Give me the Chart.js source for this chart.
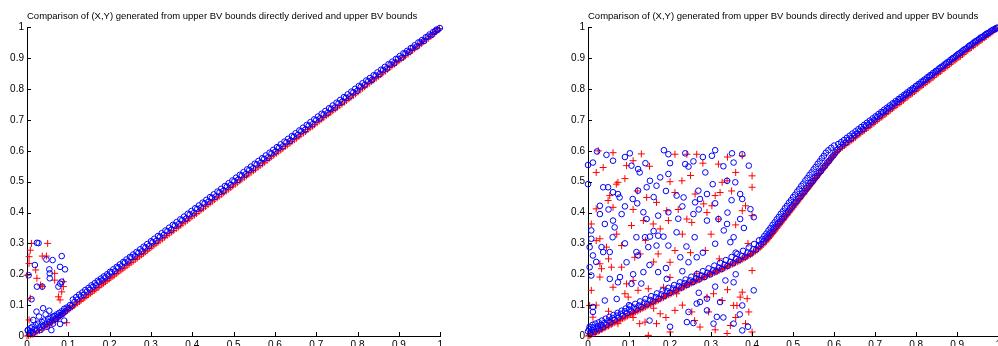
<!DOCTYPE html>
<html>
<head>
<meta charset="utf-8">
<script src="https://cdn.jsdelivr.net/npm/chart.js@4"></script>
<style>
  html, body { margin: 0; padding: 0; background: #fff; overflow: hidden; width: 998px; height: 346px; }
  canvas { position: absolute; top: 0; }
  #left { left: 0; }
  #right { left: 561px; }
</style>
</head>
<body>
<canvas id="left" width="446" height="356"></canvas>
<canvas id="right" width="443" height="356"></canvas>
<script>
const titleText = 'Comparison of (X,Y) generated from upper BV bounds directly derived and upper BV bounds';
const tickValues = [0, 0.1, 0.2, 0.3, 0.4, 0.5, 0.6, 0.7, 0.8, 0.9, 1];

// left panel: directly derived (o) vs upper bounds (+)
const leftBlueLine = [
  [0.002,0.018],[0.005,0.008],[0.008,0.025],[0.01,0.015],[0.013,0.03],[0.015,0.01],[0.018,0.022],[0.021,0.035],
  [0.024,0.018],[0.027,0.04],[0.03,0.028],[0.033,0.02],[0.036,0.045],[0.039,0.033],[0.042,0.05],[0.045,0.038],
  [0.048,0.03],[0.051,0.055],[0.054,0.045],[0.057,0.06],[0.06,0.05],[0.063,0.04],[0.066,0.065],[0.069,0.055],
  [0.072,0.07],[0.075,0.062],[0.078,0.075],[0.081,0.068],[0.084,0.08],[0.087,0.073],[0.09,0.088],[0.093,0.08],
  [0.096,0.092],[0.1,0.09],[0.104,0.1],[0.108,0.097],[0.115,0.11],[0.122,0.118],[0.13,0.128],[0.137,0.133],
  [0.145,0.144],[0.152,0.15],[0.16,0.16],[0.167,0.164],[0.175,0.176],[0.182,0.18],[0.19,0.19],[0.197,0.195],
  [0.205,0.206],[0.213,0.21],[0.221,0.222],[0.229,0.226],[0.237,0.238],[0.245,0.242],[0.253,0.255],[0.261,0.258],
  [0.27,0.27],[0.278,0.274],[0.287,0.287],[0.295,0.291],[0.304,0.304],[0.313,0.308],[0.322,0.322],[0.331,0.327],
  [0.34,0.34],[0.349,0.344],[0.358,0.358],[0.367,0.362],[0.376,0.376],[0.385,0.38],[0.394,0.394],[0.403,0.398],
  [0.412,0.412],[0.421,0.416],[0.43,0.43],[0.439,0.435],[0.448,0.448],[0.457,0.452],[0.466,0.466],[0.475,0.47],
  [0.484,0.484],[0.493,0.489],[0.502,0.502],[0.511,0.506],[0.52,0.52],[0.529,0.524],[0.538,0.538],[0.547,0.543],
  [0.556,0.556],[0.565,0.56],[0.574,0.574],[0.583,0.578],[0.592,0.592],[0.601,0.597],[0.61,0.61],[0.619,0.614],
  [0.628,0.628],[0.637,0.632],[0.646,0.646],[0.655,0.651],[0.664,0.664],[0.673,0.668],[0.682,0.682],[0.691,0.686],
  [0.7,0.7],[0.709,0.705],[0.718,0.718],[0.727,0.722],[0.736,0.736],[0.745,0.74],[0.754,0.754],[0.763,0.759],
  [0.772,0.772],[0.781,0.776],[0.79,0.79],[0.799,0.794],[0.808,0.808],[0.817,0.813],[0.826,0.826],[0.835,0.83],
  [0.844,0.844],[0.853,0.848],[0.862,0.862],[0.871,0.867],[0.88,0.88],[0.889,0.884],[0.898,0.898],[0.907,0.902],
  [0.916,0.916],[0.925,0.921],[0.934,0.934],[0.943,0.938],[0.952,0.952],[0.961,0.956],[0.97,0.97],[0.979,0.975],
  [0.988,0.988],[0.994,0.992],[0.999,0.998]
];
const leftBlueUpper = [
  [0.111,0.118],[0.119,0.126],[0.126,0.134],[0.134,0.141],[0.141,0.149],[0.149,0.156],[0.156,0.164],[0.164,0.171],
  [0.171,0.179],[0.179,0.186],[0.186,0.193],[0.194,0.2],[0.201,0.208],[0.209,0.216],[0.217,0.224],[0.225,0.232],
  [0.233,0.24],[0.241,0.248],[0.249,0.256],[0.257,0.264],[0.265,0.272],[0.274,0.281],[0.282,0.289],[0.291,0.298],
  [0.3,0.307],[0.308,0.315],[0.317,0.324],[0.326,0.333],[0.335,0.342],[0.344,0.351],[0.353,0.36],[0.362,0.369],
  [0.371,0.378],[0.38,0.387],[0.389,0.396],[0.398,0.405],[0.407,0.414],[0.416,0.423],[0.425,0.432],[0.434,0.441],
  [0.443,0.45],[0.452,0.459],[0.461,0.468],[0.47,0.477],[0.479,0.486],[0.488,0.495],[0.497,0.504],[0.506,0.513],
  [0.515,0.522],[0.524,0.531],[0.533,0.54],[0.542,0.549],[0.551,0.558],[0.56,0.567],[0.569,0.576],[0.578,0.585],
  [0.587,0.594],[0.596,0.603],[0.605,0.612],[0.614,0.621],[0.623,0.63],[0.632,0.639],[0.641,0.648],[0.65,0.657],
  [0.659,0.666],[0.668,0.675],[0.677,0.684],[0.686,0.693],[0.695,0.702],[0.704,0.711],[0.713,0.72],[0.722,0.729],
  [0.731,0.738],[0.74,0.747],[0.749,0.756],[0.758,0.765],[0.767,0.774],[0.776,0.783],[0.785,0.792],[0.794,0.801],
  [0.803,0.81],[0.812,0.819],[0.821,0.828],[0.83,0.836],[0.839,0.845],[0.848,0.854],[0.857,0.863],[0.866,0.872],
  [0.875,0.881],[0.884,0.889],[0.893,0.898],[0.902,0.907],[0.911,0.916],[0.92,0.924],[0.929,0.933],[0.938,0.942],
  [0.947,0.951],[0.956,0.959],[0.965,0.968],[0.974,0.977],[0.983,0.985],[0.991,0.993]
];
const leftBlueScatter = [
  [0.024,0.302],[0.028,0.301],[0.004,0.197],[0.019,0.23],[0.047,0.248],[0.062,0.246],[0.084,0.259],[0.054,0.216],
  [0.055,0.203],[0.092,0.216],[0.08,0.224],[0.055,0.187],[0.084,0.176],[0.076,0.16],[0.08,0.17],[0.024,0.16],
  [0.037,0.16],[0.011,0.119],[0.039,0.09],[0.054,0.082],[0.023,0.079],[0.029,0.063],[0.063,0.063],[0.015,0.052],
  [0.059,0.019],[0.08,0.039],[0.002,0.019],[0.045,0.07],[0.07,0.055],[0.09,0.05]
];
const leftRedLine = [
  [0,0],[0.004,0.002],[0.009,0.004],[0.014,0.006],[0.019,0.01],[0.024,0.013],[0.03,0.018],[0.036,0.022],
  [0.042,0.028],[0.048,0.033],[0.055,0.04],[0.062,0.046],[0.069,0.053],[0.076,0.06],[0.083,0.068],[0.09,0.075],
  [0.098,0.083],[0.106,0.091],[0.114,0.099],[0.122,0.107],[0.131,0.116],[0.14,0.125],[0.149,0.134],[0.158,0.144],
  [0.167,0.152],[0.176,0.162],[0.185,0.171],[0.194,0.18],[0.203,0.189],[0.212,0.198],[0.222,0.208],[0.232,0.218],
  [0.242,0.228],[0.252,0.238],[0.262,0.248],[0.272,0.258],[0.282,0.268],[0.292,0.278],[0.302,0.289],[0.312,0.299],
  [0.322,0.309],[0.333,0.32],[0.344,0.331],[0.355,0.342],[0.366,0.353],[0.377,0.364],[0.388,0.375],[0.399,0.386],
  [0.41,0.397],[0.421,0.408],[0.432,0.42],[0.443,0.431],[0.454,0.442],[0.465,0.453],[0.476,0.464],[0.487,0.475],
  [0.498,0.486],[0.509,0.497],[0.52,0.508],[0.531,0.519],[0.542,0.53],[0.553,0.541],[0.564,0.552],[0.575,0.563],
  [0.586,0.575],[0.597,0.586],[0.608,0.597],[0.619,0.608],[0.63,0.619],[0.641,0.63],[0.652,0.641],[0.663,0.652],
  [0.674,0.663],[0.685,0.674],[0.696,0.685],[0.707,0.697],[0.718,0.708],[0.729,0.719],[0.74,0.73],[0.751,0.741],
  [0.762,0.752],[0.773,0.763],[0.784,0.774],[0.795,0.785],[0.806,0.797],[0.817,0.808],[0.828,0.819],[0.839,0.83],
  [0.85,0.841],[0.861,0.852],[0.872,0.864],[0.883,0.875],[0.894,0.886],[0.905,0.897],[0.916,0.908],[0.927,0.92],
  [0.938,0.931],[0.949,0.942],[0.96,0.954],[0.971,0.965],[0.982,0.977],[0.991,0.987],[0.998,0.996]
];
const leftRedFill = [
  [0.051,0.036],[0.059,0.043],[0.066,0.05],[0.073,0.057],[0.08,0.064],[0.087,0.072],[0.094,0.079],[0.102,0.087],
  [0.11,0.095],[0.118,0.103],[0.127,0.112],[0.136,0.121],[0.145,0.13],[0.154,0.139],[0.163,0.148],[0.172,0.157],
  [0.181,0.166],[0.19,0.176],[0.199,0.185],[0.208,0.194],[0.217,0.203],[0.227,0.213],[0.237,0.223],[0.247,0.233],
  [0.257,0.243],[0.267,0.253],[0.277,0.263],[0.287,0.273],[0.297,0.284],[0.307,0.294],[0.317,0.304],[0.328,0.315],
  [0.339,0.326],[0.35,0.337],[0.361,0.348],[0.372,0.359],[0.383,0.37],[0.394,0.381],[0.405,0.392],[0.416,0.403],
  [0.427,0.414],[0.438,0.426],[0.449,0.437],[0.46,0.448],[0.471,0.459],[0.482,0.47],[0.493,0.481],[0.504,0.492],
  [0.515,0.503],[0.526,0.514],[0.537,0.525],[0.548,0.536],[0.559,0.547],[0.57,0.558],[0.581,0.569],[0.592,0.581],
  [0.603,0.592],[0.614,0.603],[0.625,0.614],[0.636,0.625],[0.647,0.636],[0.658,0.647],[0.669,0.658],[0.68,0.669],
  [0.691,0.68],[0.702,0.691],[0.713,0.703],[0.724,0.714],[0.735,0.725],[0.746,0.736],[0.757,0.747],[0.768,0.758],
  [0.779,0.769],[0.79,0.78],[0.801,0.791],[0.812,0.803],[0.823,0.814],[0.834,0.825],[0.845,0.836],[0.856,0.847],
  [0.867,0.858],[0.878,0.87],[0.889,0.881],[0.9,0.892],[0.911,0.903],[0.922,0.914],[0.933,0.926],[0.944,0.937],
  [0.955,0.948],[0.966,0.96],[0.977,0.971],[0.987,0.982]
];
const leftRedScatter = [
  [0.011,0.3],[0.008,0.278],[0.005,0.257],[0.005,0.235],[0.05,0.3],[0.037,0.259],[0.047,0.259],[0.037,0.16],
  [0.033,0.165],[0.021,0.214],[0.024,0.187],[0,0.197],[0.067,0.181],[0.088,0.176],[0.088,0.16],[0.084,0.143],
  [0.076,0.127],[0.08,0.117],[0.067,0.203],[0.008,0.122],[0.005,0.052],[0.096,0.043]
];

// right panel
const rightBlueLine = [
  [0,0.015],[0.003,0.022],[0.006,0.01],[0.01,0.02],[0.013,0.028],[0.016,0.014],[0.02,0.024],[0.024,0.032],
  [0.028,0.022],[0.032,0.036],[0.036,0.028],[0.04,0.042],[0.045,0.036],[0.05,0.05],[0.055,0.044],[0.06,0.058],
  [0.065,0.052],[0.07,0.066],[0.075,0.06],[0.08,0.072],[0.085,0.066],[0.09,0.08],[0.095,0.074],[0.1,0.086],
  [0.106,0.08],[0.112,0.092],[0.118,0.086],[0.124,0.099],[0.13,0.094],[0.137,0.108],[0.144,0.103],[0.151,0.117],
  [0.158,0.112],[0.165,0.126],[0.172,0.121],[0.179,0.135],[0.186,0.13],[0.193,0.145],[0.2,0.14],[0.207,0.154],
  [0.214,0.149],[0.221,0.162],[0.228,0.157],[0.235,0.171],[0.242,0.166],[0.249,0.18],[0.256,0.175],[0.263,0.187],
  [0.27,0.183],[0.277,0.196],[0.284,0.191],[0.291,0.205],[0.298,0.2],[0.305,0.213],[0.312,0.209],[0.319,0.222],
  [0.326,0.217],[0.333,0.231],[0.34,0.227],[0.347,0.24],[0.354,0.236],[0.361,0.25],[0.368,0.246],[0.375,0.259],
  [0.382,0.256],[0.389,0.27],[0.396,0.267],[0.403,0.281],[0.41,0.28],[0.416,0.292],[0.422,0.298],
  [0.428,0.306],[0.433,0.316],[0.438,0.322],[0.443,0.332],[0.448,0.338],[0.453,0.348],[0.458,0.355],[0.463,0.364],
  [0.468,0.371],[0.473,0.38],[0.478,0.387],[0.483,0.397],[0.488,0.403],[0.493,0.413],[0.498,0.42],[0.503,0.43],
  [0.508,0.436],[0.513,0.446],[0.518,0.453],[0.523,0.463],[0.528,0.469],[0.533,0.479],[0.538,0.486],[0.543,0.496],
  [0.548,0.502],[0.553,0.512],[0.558,0.519],[0.563,0.529],[0.568,0.535],[0.573,0.545],[0.578,0.552],[0.583,0.562],
  [0.588,0.568],[0.593,0.578],[0.598,0.585],[0.603,0.595],[0.608,0.603],
  [0.614,0.612],[0.621,0.621],[0.628,0.626],[0.635,0.636],[0.642,0.641],[0.649,0.65],[0.656,0.656],[0.663,0.665],
  [0.67,0.67],[0.677,0.68],[0.684,0.685],[0.691,0.694],[0.698,0.7],[0.705,0.709],[0.712,0.714],[0.719,0.724],
  [0.726,0.729],[0.733,0.738],[0.74,0.743],[0.747,0.753],[0.754,0.758],[0.761,0.767],[0.768,0.772],[0.775,0.782],
  [0.782,0.787],[0.789,0.796],[0.796,0.801],[0.803,0.811],[0.81,0.816],[0.817,0.825],[0.824,0.83],[0.831,0.84],
  [0.838,0.845],[0.845,0.854],[0.852,0.859],[0.859,0.869],[0.866,0.874],[0.873,0.883],[0.88,0.888],[0.887,0.898],
  [0.894,0.903],[0.901,0.912],[0.908,0.917],[0.915,0.926],[0.922,0.931],[0.929,0.94],[0.936,0.945],[0.943,0.954],
  [0.95,0.959],[0.957,0.967],[0.964,0.971],[0.971,0.979],[0.978,0.983],[0.985,0.99],[0.992,0.994],[0.998,0.999]
];
const rightBlueUpper = [
  [0.004,0.03],[0.011,0.036],[0.018,0.04],[0.026,0.044],[0.034,0.05],[0.043,0.056],[0.052,0.062],[0.062,0.068],
  [0.072,0.075],[0.082,0.082],[0.092,0.089],[0.103,0.096],[0.115,0.104],[0.127,0.112],[0.14,0.12],[0.154,0.129],
  [0.168,0.138],[0.182,0.147],[0.196,0.156],[0.21,0.165],[0.224,0.174],[0.238,0.183],[0.252,0.192],[0.266,0.201],
  [0.28,0.21],[0.294,0.219],[0.308,0.228],[0.322,0.237],[0.336,0.246],[0.35,0.256],[0.364,0.266],[0.378,0.276],
  [0.392,0.287],[0.405,0.298],[0.417,0.31],
  [0.425,0.314],[0.43,0.324],[0.435,0.332],[0.44,0.342],[0.445,0.35],[0.45,0.36],[0.455,0.368],[0.46,0.378],
  [0.465,0.386],[0.47,0.396],[0.475,0.404],[0.48,0.414],[0.485,0.422],[0.49,0.432],[0.495,0.44],[0.5,0.45],
  [0.505,0.458],[0.51,0.468],[0.515,0.476],[0.52,0.486],[0.525,0.494],[0.53,0.504],[0.535,0.512],[0.54,0.522],
  [0.545,0.53],[0.55,0.54],[0.555,0.548],[0.56,0.558],[0.565,0.566],[0.57,0.576],[0.575,0.584],[0.58,0.594],
  [0.586,0.602],[0.593,0.61],[0.6,0.617],
  [0.61,0.622],[0.617,0.628],[0.624,0.635],[0.631,0.642],[0.638,0.649],[0.645,0.656],[0.652,0.663],[0.659,0.67],
  [0.666,0.677],[0.673,0.684],[0.68,0.691],[0.687,0.698],[0.694,0.705],[0.701,0.712],[0.708,0.719],[0.715,0.726],
  [0.722,0.733],[0.729,0.74],[0.736,0.747],[0.743,0.754],[0.75,0.761],[0.757,0.768],[0.764,0.775],[0.771,0.782],
  [0.778,0.789],[0.785,0.796],[0.792,0.803],[0.799,0.81],[0.806,0.817],[0.813,0.824],[0.82,0.831],[0.827,0.838],
  [0.834,0.845],[0.841,0.852],[0.848,0.859],[0.855,0.866],[0.862,0.873],[0.869,0.88],[0.876,0.887],[0.883,0.894],
  [0.89,0.901],[0.897,0.908],[0.904,0.915],[0.911,0.922],[0.918,0.929],[0.925,0.935],[0.932,0.942],[0.939,0.949],
  [0.946,0.955],[0.953,0.962],[0.96,0.968],[0.967,0.975],[0.974,0.981],[0.981,0.987],[0.988,0.993],[0.995,0.998]
];
const rightBlueScatter = [
  [0.022,0.598],[0.045,0.587],[0.061,0.568],[0.102,0.592],[0.185,0.602],[0.196,0.589],[0.237,0.592],[0.31,0.602],
  [0.351,0.592],[0.376,0.589],[0,0.554],[0.012,0.562],[0.106,0.552],[0.122,0.541],[0.126,0.53],[0.237,0.557],
  [0.257,0.566],[0.245,0.549],[0.355,0.562],[0.392,0.552],[0.286,0.53],[0.302,0.584],
  [0,0.492],[0.037,0.482],[0.049,0.482],[0.061,0.466],[0.073,0.46],[0.077,0.449],[0.109,0.444],[0.122,0.471],
  [0.143,0.482],[0.167,0.487],[0.196,0.525],[0.176,0.514],[0.151,0.503],[0.216,0.455],[0.233,0.449],[0.269,0.471],
  [0.261,0.433],[0.273,0.444],[0.304,0.492],[0.339,0.503],[0.359,0.498],[0.371,0.46],[0.376,0.444],[0.029,0.422],
  [0.029,0.395],[0.041,0.363],[0.065,0.352],[0.061,0.374],[0.082,0.395],[0.135,0.401],[0.143,0.379],[0.171,0.39],
  [0.196,0.401],[0.118,0.32],[0.139,0.32],[0.151,0.322],[0.171,0.325],[0.184,0.322],[0.216,0.336],[0.257,0.395],
  [0.29,0.374],[0.318,0.379],[0.331,0.342],[0.339,0.363],[0.371,0.379],[0.404,0.385],[0.396,0.411],[0.008,0.342],
  [0.008,0.315],[0.004,0.288],[0.012,0.261],[0.033,0.288],[0.037,0.272],[0.053,0.272],[0.122,0.261],[0.118,0.272],
  [0.147,0.288],[0.167,0.293],[0.196,0.293],[0.225,0.255],[0.245,0.239],[0.265,0.255],[0.31,0.299],[0.347,0.304],
  [0.355,0.32],
  [0.004,0.223],[0.008,0.196],[0.053,0.185],[0.078,0.191],[0.073,0.174],[0.094,0.239],[0.106,0.169],[0.135,0.207],
  [0.171,0.207],[0.192,0.185],[0.335,0.18],[0.355,0.174],[0.041,0.115],[0.012,0.094],[0.012,0.078],[0.245,0.078],
  [0.265,0.105],[0.273,0.11],[0.322,0.11],[0.314,0.062],[0.306,0.04],[0.241,0.045],[0.257,0.042],[0.376,0.099],
  [0.376,0.018],[0.404,0.148],[0.355,0.04],[0.29,0.083],[0.29,0.121],
  [0.09,0.58],[0.14,0.56],[0.2,0.56],[0.28,0.58],[0.33,0.55],[0.16,0.45],[0.19,0.47],[0.29,0.46],
  [0.31,0.43],[0.35,0.44],[0.09,0.42],[0.12,0.43],[0.23,0.42],[0.27,0.41],[0.05,0.41],[0.16,0.34],
  [0.22,0.38],[0.26,0.32],[0.34,0.4],[0.38,0.35],[0.06,0.32],[0.09,0.3],[0.24,0.29],[0.28,0.27],
  [0.36,0.27],[0.02,0.24],[0.15,0.23],[0.19,0.22],[0.23,0.21],[0.11,0.2],[0.13,0.17],[0.07,0.12],
  [0.1,0.1],[0.15,0.05],[0.2,0.03],[0.33,0.06],[0.37,0.07],[0.39,0.03],[0.27,0.14],[0.31,0.16],[0.36,0.2]
];
const rightRedLine = [
  [0,0],[0.006,0.004],[0.012,0.008],[0.018,0.012],[0.025,0.016],[0.032,0.021],[0.039,0.026],[0.046,0.031],
  [0.053,0.036],[0.06,0.041],[0.068,0.046],[0.076,0.051],[0.084,0.057],[0.092,0.062],[0.1,0.068],[0.108,0.073],
  [0.116,0.079],[0.124,0.084],[0.132,0.09],[0.14,0.095],[0.148,0.101],[0.156,0.106],[0.164,0.112],[0.172,0.117],
  [0.18,0.123],[0.188,0.128],[0.196,0.134],[0.204,0.139],[0.212,0.145],[0.22,0.15],[0.228,0.156],[0.236,0.161],
  [0.244,0.167],[0.252,0.172],[0.26,0.177],[0.268,0.182],[0.276,0.187],[0.284,0.192],[0.292,0.197],[0.3,0.201],
  [0.308,0.206],[0.316,0.211],[0.324,0.216],[0.332,0.221],[0.34,0.226],[0.348,0.231],[0.356,0.236],[0.364,0.241],
  [0.372,0.246],[0.38,0.252],[0.388,0.258],[0.396,0.264],[0.404,0.271],[0.412,0.279],[0.42,0.288],[0.427,0.297],
  [0.432,0.304],[0.437,0.312],[0.442,0.32],[0.447,0.328],[0.452,0.336],[0.457,0.344],[0.462,0.353],[0.467,0.361],
  [0.472,0.37],[0.477,0.378],[0.482,0.387],[0.487,0.395],[0.492,0.404],[0.497,0.412],[0.502,0.421],[0.507,0.429],
  [0.512,0.438],[0.517,0.446],[0.522,0.455],[0.527,0.463],[0.532,0.472],[0.537,0.48],[0.542,0.489],[0.547,0.497],
  [0.552,0.506],[0.557,0.514],[0.562,0.523],[0.567,0.531],[0.572,0.54],[0.577,0.548],[0.582,0.557],[0.587,0.565],
  [0.592,0.574],[0.597,0.582],[0.602,0.59],[0.608,0.598],
  [0.616,0.608],[0.625,0.617],[0.634,0.626],[0.643,0.635],[0.652,0.644],[0.661,0.654],[0.67,0.663],[0.679,0.672],
  [0.688,0.681],[0.697,0.69],[0.706,0.7],[0.715,0.709],[0.724,0.718],[0.733,0.727],[0.742,0.737],[0.751,0.746],
  [0.76,0.755],[0.769,0.764],[0.778,0.774],[0.787,0.783],[0.796,0.792],[0.805,0.801],[0.814,0.811],[0.823,0.82],
  [0.832,0.829],[0.841,0.838],[0.85,0.848],[0.859,0.857],[0.868,0.866],[0.877,0.875],[0.886,0.885],[0.895,0.894],
  [0.904,0.903],[0.913,0.912],[0.922,0.922],[0.931,0.931],[0.94,0.94],[0.949,0.949],[0.958,0.958],[0.967,0.967],
  [0.976,0.976],[0.985,0.985],[0.994,0.994]
];
const rightRedFill = [
  [0.003,0.002],[0.009,0.006],[0.015,0.01],[0.021,0.014],[0.028,0.018],[0.035,0.023],[0.042,0.028],[0.05,0.033],
  [0.057,0.038],[0.064,0.043],[0.072,0.048],[0.08,0.054],[0.088,0.059],[0.096,0.065],[0.104,0.07],[0.112,0.076],
  [0.12,0.081],[0.128,0.087],[0.136,0.092],[0.144,0.098],[0.152,0.103],[0.16,0.109],[0.168,0.114],[0.176,0.12],
  [0.184,0.125],[0.192,0.131],[0.2,0.136],[0.208,0.142],[0.216,0.147],[0.224,0.153],[0.232,0.158],[0.24,0.164],
  [0.248,0.169],[0.256,0.174],[0.264,0.179],[0.272,0.184],[0.28,0.189],[0.288,0.194],[0.296,0.199],[0.304,0.203],
  [0.312,0.208],[0.32,0.213],[0.328,0.218],[0.336,0.223],[0.344,0.228],[0.352,0.233],[0.36,0.238],[0.368,0.243],
  [0.376,0.249],[0.384,0.255],[0.392,0.261],[0.4,0.267],[0.408,0.275],[0.416,0.283],[0.424,0.292],
  [0.435,0.308],[0.44,0.316],[0.445,0.324],[0.45,0.332],[0.455,0.34],[0.46,0.349],[0.465,0.357],[0.47,0.366],
  [0.475,0.374],[0.48,0.383],[0.485,0.391],[0.49,0.4],[0.495,0.408],[0.5,0.417],[0.505,0.425],[0.51,0.434],
  [0.515,0.442],[0.52,0.451],[0.525,0.459],[0.53,0.468],[0.535,0.476],[0.54,0.485],[0.545,0.493],[0.55,0.502],
  [0.555,0.51],[0.56,0.519],[0.565,0.527],[0.57,0.536],[0.575,0.544],[0.58,0.553],[0.585,0.561],[0.59,0.57],
  [0.595,0.578],[0.6,0.586],[0.605,0.594],[0.612,0.603],
  [0.62,0.612],[0.629,0.621],[0.638,0.63],[0.647,0.639],[0.656,0.649],[0.665,0.658],[0.674,0.667],[0.683,0.676],
  [0.692,0.685],[0.701,0.695],[0.71,0.704],[0.719,0.713],[0.728,0.722],[0.737,0.732],[0.746,0.741],[0.755,0.75],
  [0.764,0.759],[0.773,0.769],[0.782,0.778],[0.791,0.787],[0.8,0.796],[0.809,0.806],[0.818,0.815],[0.827,0.824],
  [0.836,0.833],[0.845,0.843],[0.854,0.852],[0.863,0.861],[0.872,0.87],[0.881,0.88],[0.89,0.889],[0.899,0.898],
  [0.908,0.907],[0.917,0.917],[0.926,0.926],[0.935,0.935],[0.944,0.944],[0.953,0.953],[0.962,0.962],[0.971,0.971],
  [0.98,0.98],[0.989,0.989],[0.997,0.997]
];
const rightRedScatter = [
  [0.025,0.6],[0.061,0.594],[0.094,0.552],[0.11,0.568],[0.212,0.589],[0.241,0.589],[0.265,0.589],[0.376,0.584],
  [0.02,0.53],[0.037,0.546],[0.073,0.498],[0.069,0.492],[0.053,0.455],[0.143,0.449],[0.167,0.433],[0.192,0.406],
  [0.212,0.465],[0.229,0.503],[0.261,0.46],[0.282,0.428],[0.302,0.422],[0.31,0.455],[0.322,0.465],[0.327,0.498],
  [0.318,0.557],[0.339,0.503],[0.4,0.519],[0.4,0.482],[0.4,0.39],[0.384,0.422],[0.376,0.406],[0.02,0.412],
  [0.049,0.439],[0.061,0.417],[0.106,0.358],[0.135,0.374],[0.159,0.363],[0.176,0.347],[0.196,0.374],[0.241,0.379],
  [0.253,0.368],[0.286,0.277],[0.318,0.379],[0.008,0.363],[0.02,0.309],[0.029,0.315],[0.045,0.288],[0.082,0.293],
  [0.114,0.255],[0.127,0.266],[0.171,0.266],[0.2,0.239],[0.212,0.277],[0.265,0.202],[0.029,0.234],[0.033,0.218],
  [0.057,0.223],[0.082,0.223],[0.029,0.191],[0.061,0.158],[0.094,0.169],[0.09,0.137],[0.098,0.126],[0.122,0.148],
  [0.147,0.153],[0.184,0.158],[0.216,0.137],[0.29,0.126],[0.306,0.137],[0.327,0.115],[0.355,0.099],[0.371,0.126],
  [0.376,0.142],[0.388,0.121],[0.4,0.212],[0.008,0.148],[0.004,0.099],[0.012,0.061],[0.029,0.032],[0.053,0.051],
  [0.073,0.04],[0.126,0.04],[0.147,0.002],[0.139,0.045],[0.167,0.04],[0.2,0.013],[0.176,0.072],[0.212,0.083],
  [0.253,0.078],[0.294,0.078],[0.273,0.029],[0.339,0.008],[0.347,0.034],[0.384,0.04],[0.4,0.013],[0.392,0.078],
  [0.363,0.099],
  [0.13,0.59],[0.15,0.55],[0.28,0.56],[0.34,0.58],[0.36,0.53],[0.09,0.51],[0.12,0.47],[0.2,0.5],
  [0.25,0.52],[0.35,0.47],[0.11,0.41],[0.22,0.41],[0.29,0.4],[0.36,0.36],[0.07,0.33],[0.14,0.31],
  [0.23,0.33],[0.3,0.33],[0.39,0.3],[0.05,0.25],[0.16,0.24],[0.25,0.27],[0.32,0.25],[0.11,0.18],
  [0.2,0.19],[0.24,0.17],[0.34,0.15],[0.02,0.1],[0.05,0.08],[0.11,0.06],[0.16,0.09],[0.23,0.1],
  [0.26,0.05],[0.31,0.02],[0.36,0.06],[0.19,0.06]
];

const toPoints = (...lists) => [].concat(...lists).map(p => ({ x: p[0], y: p[1] }));

// MATLAB-style ticks pointing into the axes
const inwardTicks = {
  id: 'inwardTicks',
  afterDraw(chart) {
    const { ctx, chartArea, scales } = chart;
    ctx.save();
    ctx.strokeStyle = '#000';
    ctx.lineWidth = 1;
    ctx.beginPath();
    scales.x.ticks.forEach(t => {
      const px = Math.round(scales.x.getPixelForValue(t.value)) + 0.5;
      ctx.moveTo(px, chartArea.bottom);
      ctx.lineTo(px, chartArea.bottom - 4);
    });
    scales.y.ticks.forEach(t => {
      const py = Math.round(scales.y.getPixelForValue(t.value)) + 0.5;
      ctx.moveTo(chartArea.left, py);
      ctx.lineTo(chartArea.left + 4, py);
    });
    ctx.stroke();
    ctx.restore();
  }
};

function axis(isX) {
  return {
    type: 'linear',
    min: 0,
    max: 1,
    afterBuildTicks: s => { s.ticks = tickValues.map(v => ({ value: v })); },
    afterFit: s => { if (isX) s.height = 20; else s.width = 27; },
    grid: { display: false, drawTicks: false },
    border: { display: true, color: '#000', width: 1 },
    ticks: {
      padding: 3,
      color: '#000',
      font: { family: 'Arial', size: 10 },
      autoSkip: false,
      maxRotation: 0,
      callback: v => String(+v.toFixed(1))
    }
  };
}

function makeChart(id, redPts, bluePts) {
  new Chart(document.getElementById(id), {
    type: 'scatter',
    data: {
      // first dataset is painted last, so the circles sit over the crosses
      datasets: [
        { label: 'directly derived', data: bluePts, pointStyle: 'circle', radius: 2.8,
          borderColor: 'rgb(0,0,255)', backgroundColor: 'rgba(0,0,0,0)', borderWidth: 1, clip: false },
        { label: 'upper BV bounds', data: redPts, pointStyle: 'cross', radius: 3.5,
          borderColor: 'rgb(255,0,0)', borderWidth: 1, clip: false }
      ]
    },
    options: {
      responsive: false,
      animation: false,
      layout: { padding: 0 },
      plugins: {
        legend: { display: false },
        tooltip: { enabled: false },
        title: {
          display: true,
          text: titleText,
          align: 'start',
          fullSize: false,
          color: '#000',
          font: { family: 'Arial', size: 9.5, weight: 'normal' },
          padding: { top: 11, bottom: 5 }
        }
      },
      scales: { x: axis(true), y: axis(false) }
    },
    plugins: [inwardTicks]
  });
}

makeChart('left',
  toPoints(leftRedScatter, leftRedLine, leftRedFill),
  toPoints(leftBlueScatter, leftBlueLine, leftBlueUpper));
makeChart('right',
  toPoints(rightRedScatter, rightRedLine, rightRedFill),
  toPoints(rightBlueScatter, rightBlueLine, rightBlueUpper));
</script>
</body>
</html>
